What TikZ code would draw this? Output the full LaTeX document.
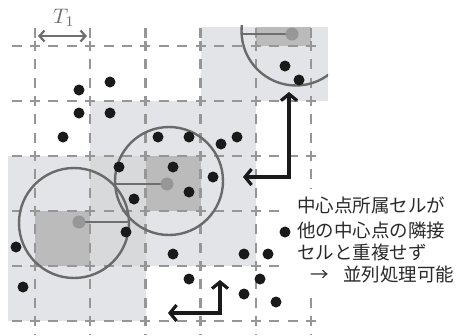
\documentclass[tikz,border=0pt]{standalone}
\usepackage{fontspec}
\newfontfamily\cjk{Noto Sans CJK JP}
\usetikzlibrary{arrows.meta}
\definecolor{nbr}{HTML}{E2E4E7}
\definecolor{ovl}{HTML}{D7D9DB}
\definecolor{ctr}{HTML}{BBBBBB}
\definecolor{grd}{HTML}{969696}
\definecolor{circ}{HTML}{6A6A6A}
\definecolor{cdot}{HTML}{979797}
\definecolor{ink}{HTML}{1A1A1A}
\definecolor{txt}{HTML}{2A2A2A}
\definecolor{tone}{HTML}{6E6E6E}
\begin{document}
\begin{tikzpicture}[x=1pt,y=-1pt,
  gridh/.style={grd, line width=2.4pt, dash pattern=on 10pt off 8.4pt},
  gridv/.style={grd, line width=2.4pt, dash pattern=on 10pt off 8.33pt},
  ring/.style={circ, line width=2.4pt},
  radline/.style={tone, line width=2.8pt},
  cpt/.style={cdot},
  pt/.style={ink},
  bigarrow/.style={ink, line width=3.2pt, line join=miter,
    {Straight Barb[length=6.5pt,width=16pt,line width=3.2pt]}-{Straight Barb[length=6.5pt,width=16pt,line width=3.2pt]}},
  smallarrow/.style={tone, line width=2.2pt,
    {Straight Barb[length=5pt,width=11pt]}-{Straight Barb[length=5pt,width=11pt]}},
  jtext/.style={txt, inner sep=0pt, anchor=base west, font=\cjk\fontsize{18.5}{21}\selectfont}
]
\useasboundingbox (0,0) rectangle (457,335);

\begin{scope}
\clip (8,25) rectangle (328,335);
% neighbourhoods
\fill[nbr] (201,27) rectangle (328,101);
\fill[nbr] (90,101) rectangle (256,266);
\fill[nbr] (8,156) rectangle (146,321);
\fill[ovl] (90,156) rectangle (146,266);
% centre cells
\fill[ctr] (256,27) rectangle (311,46);
\fill[ctr] (146,156) rectangle (201,211);
\fill[ctr] (35,211) rectangle (90,266);

% grid
\foreach \i in {0,...,5} {
  \pgfmathsetmacro\xx{35+55.2*\i}
  \draw[grd, line width=2.4pt] (\xx,28) -- (\xx,38);
  \draw[gridv] (\xx,41) -- (\xx,335);
}
\foreach \j in {0,...,5} {
  \pgfmathsetmacro\yy{46+55*\j}
  \draw[gridh] (11.6,\yy) -- (318,\yy);
}

% circles and radius lines
\draw[ring] (296,31) circle[radius=54.5];
\draw[radline] (292,34) -- (243,34);
\fill[cpt] (292,34) circle[radius=6.5];

\draw[ring] (169,181) circle[radius=54];
\draw[radline] (167,184) -- (115,184);
\fill[cpt] (167,184) circle[radius=6.5];

\draw[ring] (74,223) circle[radius=55];
\draw[radline] (79,222) -- (129,222);
\fill[cpt] (79,222) circle[radius=6.5];
\end{scope}

% white ground behind the caption
\fill[white] (287,189) rectangle (457,289);

% points
\foreach \p in {(79,90),(110,82),(79,113),(110,113),(63,137),(158,137),(189,137),
  (221,144),(237,137),(119,167),(173,167),(134,199),(213,177),(189,192),(126,232),
  (16,247),(23,287),(173,254),(189,279),(285,232),(244,254),(268,254),(260,279),
  (244,294),(276,302),(285,66),(299,80)}
  \fill[pt] \p circle[radius=5.5];

% T1
\node[tone, inner sep=0pt, scale=2.1] (t1) at (64,18) {$T_1$};
\coordinate (t1a) at (38,36);
\coordinate (t1b) at (87,36);
\draw[smallarrow] (t1a) -- (t1b);

% thick arrows
\coordinate (a1h) at (243,177);
\coordinate (a1c) at (289,177);
\coordinate (a1v) at (289,92);
\draw[bigarrow] (a1h) -- (a1c) -- (a1v);
\coordinate (a2h) at (168,313);
\coordinate (a2c) at (220,313);
\coordinate (a2v) at (220,280);
\draw[bigarrow] (a2h) -- (a2c) -- (a2v);

% text
\node[jtext] (l1) at (297,212) {中心点所属セルが};
\node[jtext] (l2) at (297,237) {他の中心点の隣接};
\node[jtext] (l3) at (297,259) {セルと重複せず};
\node[jtext] (l4a) at (310,281) {→};
\node[jtext] (l4b) at (343,281) {並列処理可能};
\end{tikzpicture}
\end{document}
